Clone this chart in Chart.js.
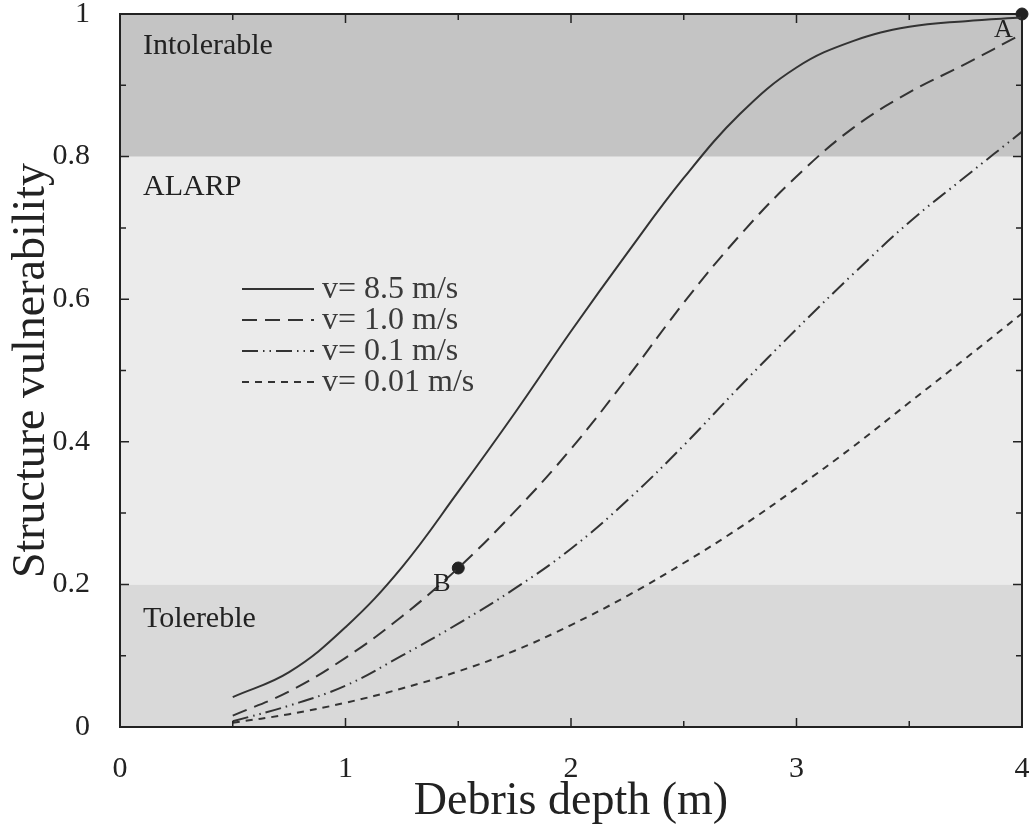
<!DOCTYPE html>
<html>
<head>
<meta charset="utf-8">
<script src="https://cdn.jsdelivr.net/npm/chart.js@4.4.1/dist/chart.umd.min.js"></script>
<style>
    body { margin: 0; background: #fff; }
    canvas { display: block; }
</style>
</head>
<body>
<canvas id="vulnerability" width="1033" height="832"></canvas>
<script>
// debris depth (m) where each curve is sampled
const depths = [0.5, 0.75, 1, 1.25, 1.5, 1.75, 2, 2.25, 2.5, 2.75, 3, 3.25, 3.5, 3.75, 4];

// structure vulnerability for each flow velocity
const v85 = [0.042, 0.077, 0.14, 0.224, 0.33, 0.44, 0.555, 0.665, 0.77, 0.86, 0.925, 0.962, 0.982, 0.99, 0.995];
const v10 = [0.016, 0.05, 0.097, 0.155, 0.223, 0.302, 0.39, 0.49, 0.595, 0.69, 0.772, 0.84, 0.89, 0.93, 0.972];
const v01 = [0.008, 0.03, 0.058, 0.1, 0.145, 0.194, 0.25, 0.318, 0.395, 0.478, 0.558, 0.635, 0.708, 0.772, 0.835];
const v001 = [0.006, 0.018, 0.034, 0.054, 0.078, 0.107, 0.143, 0.184, 0.23, 0.28, 0.335, 0.393, 0.455, 0.517, 0.58];

const seriesLabels = ["v= 8.5 m/s", "v= 1.0 m/s", "v= 0.1 m/s", "v= 0.01 m/s"];

// marked points
const pointLabels = ["A", "B"];
const pointX = [4, 1.5];
const pointY = [1, 0.223];

// risk zones
const zoneNames = ["Tolereble", "ALARP", "Intolerable"];
const zoneFrom = [0, 0.2, 0.8];
const zoneTo = [0.2, 0.8, 1];
const zoneColors = ["#d9d9d9", "#ebebeb", "#c4c4c4"];

const xTickLabels = ["0", "1", "2", "3", "4"];
const yTickLabels = ["0", "0.2", "0.4", "0.6", "0.8", "1"];

const serif = "'Liberation Serif', 'DejaVu Serif', serif";
const ink = "#333";

function toPoints(ys) {
    return depths.map((d, i) => ({ x: d, y: ys[i] }));
}

function curve(label, ys, dash) {
    return {
        label: label,
        data: toPoints(ys),
        borderColor: ink,
        borderWidth: 2,
        borderDash: dash,
        pointRadius: 0,
        fill: false,
        tension: 0.4,
    };
}

// drop the extra room Chart.js keeps for half-labels at the axis ends
function noEdgePadding(scale) {
    scale.paddingTop = 0;
    scale.paddingBottom = 0;
    scale.paddingLeft = 0;
    scale.paddingRight = 0;
}

const zonesPlugin = {
    id: "zones",
    beforeDatasetsDraw(chart) {
        const { ctx, chartArea: a, scales: { y } } = chart;
        ctx.save();
        zoneFrom.forEach((from, i) => {
            const top = y.getPixelForValue(zoneTo[i]);
            const bottom = y.getPixelForValue(from);
            ctx.fillStyle = zoneColors[i];
            ctx.fillRect(a.left, top, a.right - a.left, bottom - top);
        });
        ctx.fillStyle = "#222";
        ctx.font = "30px " + serif;
        ctx.textBaseline = "alphabetic";
        ctx.fillText(zoneNames[2], a.left + 23, y.getPixelForValue(1) + 40);
        ctx.fillText(zoneNames[1], a.left + 23, y.getPixelForValue(0.8) + 38);
        ctx.fillText(zoneNames[0], a.left + 23, y.getPixelForValue(0.2) + 43);
        ctx.restore();
    },
};

const frameTicksPlugin = {
    id: "frameTicks",
    afterDatasetsDraw(chart) {
        const { ctx, chartArea: a, scales: { x, y } } = chart;
        ctx.save();
        ctx.strokeStyle = "#222";
        ctx.lineWidth = 2;
        ctx.strokeRect(a.left, a.top, a.right - a.left, a.bottom - a.top);
        ctx.lineWidth = 1.5;
        ctx.beginPath();
        for (let v = 0.5; v < 4; v += 0.5) {
            const px = x.getPixelForValue(v);
            const len = Number.isInteger(v) ? 9 : 6;
            ctx.moveTo(px, a.bottom);
            ctx.lineTo(px, a.bottom - len);
            ctx.moveTo(px, a.top);
            ctx.lineTo(px, a.top + len);
        }
        for (let k = 1; k < 10; k++) {
            const py = y.getPixelForValue(k / 10);
            const len = k % 2 === 0 ? 9 : 6;
            ctx.moveTo(a.left, py);
            ctx.lineTo(a.left + len, py);
            ctx.moveTo(a.right, py);
            ctx.lineTo(a.right - len, py);
        }
        ctx.stroke();

        // legend inside the plot
        ctx.font = "32px " + serif;
        ctx.fillStyle = "#3a3a3a";
        ctx.textBaseline = "middle";
        const lx = 242, ly = 289, step = 31;
        chart.data.datasets.slice(0, 4).forEach((ds, i) => {
            const yy = ly + i * step;
            ctx.strokeStyle = ds.borderColor;
            ctx.lineWidth = 2;
            ctx.setLineDash(ds.borderDash || []);
            ctx.beginPath();
            ctx.moveTo(lx, yy);
            ctx.lineTo(lx + 72, yy);
            ctx.stroke();
            ctx.setLineDash([]);
            ctx.fillText(ds.label, lx + 80, yy + 1);
        });

        // point labels
        ctx.font = "26px " + serif;
        ctx.fillStyle = "#222";
        ctx.textBaseline = "alphabetic";
        ctx.fillText(pointLabels[0], x.getPixelForValue(pointX[0]) - 28, y.getPixelForValue(pointY[0]) + 23);
        ctx.fillText(pointLabels[1], x.getPixelForValue(pointX[1]) - 25, y.getPixelForValue(pointY[1]) + 23);
        ctx.restore();
    },
};

const canvas = document.querySelector("#vulnerability");
new Chart(canvas, {
    type: "line",
    data: {
        datasets: [
            curve(seriesLabels[0], v85, []),
            curve(seriesLabels[1], v10, [15, 8]),
            curve(seriesLabels[2], v01, [16, 5, 1.5, 5, 1.5, 5]),
            curve(seriesLabels[3], v001, [7, 6]),
            {
                label: "points",
                type: "scatter",
                data: pointX.map((px, i) => ({ x: px, y: pointY[i] })),
                pointRadius: 6,
                pointBackgroundColor: "#222",
                pointBorderColor: "#222",
                clip: false,
            },
        ],
    },
    plugins: [zonesPlugin, frameTicksPlugin],
    options: {
        responsive: false,
        animation: false,
        layout: { padding: { top: 14, right: 11, left: 0, bottom: 0 } },
        plugins: {
            legend: { display: false },
            tooltip: { enabled: false },
        },
        scales: {
            x: {
                type: "linear",
                min: 0,
                max: 4,
                afterFit: (scale) => {
                    scale.height = 105;
                    noEdgePadding(scale);
                },
                afterBuildTicks: (scale) => {
                    scale.ticks = xTickLabels.map((t) => ({ value: Number(t) }));
                },
                ticks: {
                    callback: (value) => xTickLabels[xTickLabels.indexOf(String(value))],
                    font: { family: serif, size: 30 },
                    color: "#222",
                    padding: 24,
                    maxRotation: 0,
                },
                grid: { display: false, drawTicks: false },
                border: { display: false },
                title: {
                    display: true,
                    text: "Debris depth (m)",
                    font: { family: serif, size: 46 },
                    color: "#222",
                    padding: { top: 0, bottom: 2 },
                },
            },
            y: {
                type: "linear",
                min: 0,
                max: 1,
                afterFit: (scale) => {
                    scale.width = 120;
                    noEdgePadding(scale);
                },
                afterBuildTicks: (scale) => {
                    scale.ticks = yTickLabels.map((t) => ({ value: Number(t) }));
                },
                ticks: {
                    callback: (value) => yTickLabels[Math.round(value * 5)],
                    font: { family: serif, size: 30 },
                    color: "#222",
                    padding: 30,
                },
                grid: { display: false, drawTicks: false },
                border: { display: false },
                title: {
                    display: true,
                    text: "Structure vulnerability",
                    font: { family: serif, size: 46 },
                    color: "#222",
                    padding: { top: 4, bottom: 0 },
                },
            },
        },
    },
});
</script>
</body>
</html>
